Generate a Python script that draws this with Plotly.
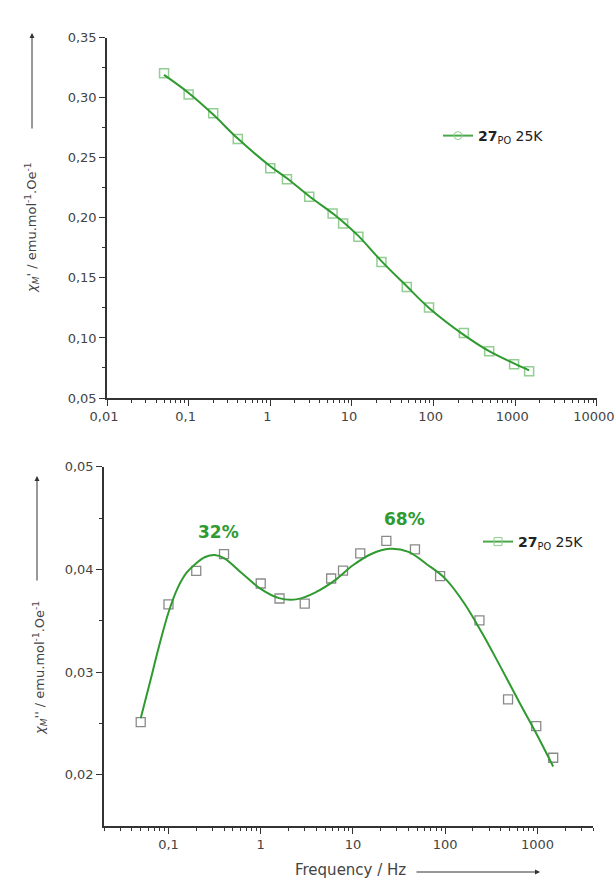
import math
import plotly.graph_objects as go

# ---------------- data ----------------
freq = [0.05, 0.1, 0.2, 0.4, 1, 1.6, 3, 5.8, 7.8, 12, 23, 47, 88, 235, 480, 970, 1480]
chi_real = [0.3203, 0.3028, 0.287, 0.2656, 0.2412, 0.2322, 0.2175, 0.2037, 0.1953,
            0.1842, 0.1633, 0.1425, 0.1253, 0.1042, 0.089, 0.078, 0.0722]
chi_imag = [0.02512, 0.03658, 0.03985, 0.04148, 0.03862, 0.03716, 0.03667, 0.03911,
            0.03987, 0.04155, 0.04278, 0.04194, 0.03934, 0.03504, 0.02734, 0.02473, 0.02165]

fit_freq_real = [0.05, 0.1, 0.2, 0.4, 1, 1.6, 3, 6, 8, 12, 23, 47, 88, 230, 480, 950, 1480]
fit_real = [0.319, 0.304, 0.286, 0.266, 0.243, 0.233, 0.218, 0.203, 0.196, 0.185,
            0.164, 0.143, 0.125, 0.103, 0.089, 0.079, 0.073]

fit_freq_imag = [0.05, 0.063, 0.079, 0.1, 0.126, 0.158, 0.2, 0.25, 0.316, 0.4, 0.63,
                 1.0, 1.58, 2.5, 4.0, 6.3, 10, 15.8, 25, 40, 63, 100, 158, 251, 398,
                 631, 1000, 1480]
fit_imag = [0.0255, 0.0290, 0.0325, 0.0358, 0.0382, 0.0397, 0.0406, 0.0412, 0.0414,
            0.0411, 0.0396, 0.0381, 0.0372, 0.0371, 0.0378, 0.0389, 0.0404, 0.0415,
            0.0420, 0.0417, 0.0405, 0.0391, 0.0368, 0.0338, 0.0305, 0.0271, 0.0238,
            0.0208]

top_xticks = [0.01, 0.1, 1, 10, 100, 1000, 10000]
top_xtext = ["0,01", "0,1", "1", "10", "100", "1000", "10000"]
top_yticks = [0.05, 0.10, 0.15, 0.20, 0.25, 0.30, 0.35]
top_ytext = ["0,05", "0,10", "0,15", "0,20", "0,25", "0,30", "0,35"]
bot_xticks = [0.1, 1, 10, 100, 1000]
bot_xtext = ["0,1", "1", "10", "100", "1000"]
bot_yticks = [0.02, 0.03, 0.04, 0.05]
bot_ytext = ["0,02", "0,03", "0,04", "0,05"]

series_name = "<b>27</b><sub>PO</sub> 25K"
peak_labels = ["32%", "68%"]

# ---------------- styling ----------------
W, H = 616, 882
GREEN = "#2f9a2f"
LIGHTGREEN = "rgba(110,190,110,0.75)"
GRAY = "#8a8a8a"
AX = "#333333"
TXT = "#444444"
FONT = "DejaVu Sans"


def px_x(p):
    return p / W


def px_y(p):
    return 1 - p / H


def minor_log(lo, hi):
    vals = []
    for e in range(lo, hi):
        for m in range(2, 10):
            vals.append(m * 10 ** e)
    return vals


fig = go.Figure()

# top panel
fig.add_trace(go.Scatter(x=freq, y=chi_real, mode="markers", xaxis="x", yaxis="y",
                         marker=dict(symbol="square-open", size=9,
                                     color=LIGHTGREEN, line=dict(width=1.5)),
                         showlegend=False))
fig.add_trace(go.Scatter(x=fit_freq_real, y=fit_real, mode="lines", xaxis="x", yaxis="y",
                         line=dict(color=GREEN, width=2, shape="spline"),
                         showlegend=False))
fig.add_trace(go.Scatter(x=[None], y=[None], mode="lines+markers", xaxis="x", yaxis="y",
                         name=series_name, legend="legend",
                         line=dict(color="#4aa84a", width=2),
                         marker=dict(symbol="circle-open", size=8, color="#8bd08b")))

# bottom panel
fig.add_trace(go.Scatter(x=freq, y=chi_imag, mode="markers", xaxis="x2", yaxis="y2",
                         marker=dict(symbol="square-open", size=9, color=GRAY,
                                     line=dict(width=1.3)),
                         showlegend=False))
fig.add_trace(go.Scatter(x=fit_freq_imag, y=fit_imag, mode="lines", xaxis="x2", yaxis="y2",
                         line=dict(color=GREEN, width=2, shape="spline"),
                         showlegend=False))
fig.add_trace(go.Scatter(x=[None], y=[None], mode="lines+markers", xaxis="x2", yaxis="y2",
                         name=series_name, legend="legend2",
                         line=dict(color="#4aa84a", width=2),
                         marker=dict(symbol="square-open", size=8, color="#8bd08b")))

axis_common = dict(showline=True, linecolor=AX, linewidth=1.5, ticks="outside",
                   ticklen=6, tickwidth=1.3, tickcolor=AX, showgrid=False,
                   zeroline=False, tickfont=dict(family=FONT, size=13, color=TXT),
                   tickmode="array", automargin=False, ticklabeloverflow="allow")

fig.update_layout(
    width=W, height=H,
    margin=dict(l=0, r=0, t=0, b=0, autoexpand=False),
    paper_bgcolor="white", plot_bgcolor="white",
    xaxis=dict(type="log", range=[-2, 4.002], domain=[px_x(107), px_x(597)], anchor="y",
               tickvals=top_xticks, ticktext=top_xtext, ticklabelshift=-3,
               minor=dict(tickvals=minor_log(-2, 4), ticks="outside", ticklen=3,
                          tickwidth=1.1, tickcolor=AX),
               **axis_common),
    yaxis=dict(range=[0.05, 0.35], domain=[px_y(398), px_y(37.7)], anchor="x",
               tickvals=top_yticks, ticktext=top_ytext,
               minor=dict(tickvals=[0.075, 0.125, 0.175, 0.225, 0.275, 0.325],
                          ticks="outside", ticklen=3, tickwidth=1.1, tickcolor=AX),
               **axis_common),
    xaxis2=dict(type="log", range=[math.log10(0.02), math.log10(4000)],
                domain=[px_x(104), px_x(593)], anchor="y2",
                tickvals=bot_xticks, ticktext=bot_xtext,
                minor=dict(tickvals=minor_log(-2, 4), ticks="outside", ticklen=3,
                           tickwidth=1.1, tickcolor=AX),
                **axis_common),
    yaxis2=dict(range=[0.015, 0.05], domain=[px_y(826), px_y(466.7)], anchor="x2",
                tickvals=bot_yticks, ticktext=bot_ytext,
                minor=dict(tickvals=[0.025, 0.035, 0.045],
                           ticks="outside", ticklen=3, tickwidth=1.1, tickcolor=AX),
                **axis_common),
    legend=dict(x=px_x(438), y=px_y(136), xanchor="left", yanchor="middle",
                bgcolor="rgba(0,0,0,0)", font=dict(family=FONT, size=14, color="#222"),
                itemwidth=30),
    legend2=dict(x=px_x(478), y=px_y(542), xanchor="left", yanchor="middle",
                 bgcolor="rgba(0,0,0,0)", font=dict(family=FONT, size=14, color="#222"),
                 itemwidth=30),
)

C = dict(xanchor="center", yanchor="middle")
annotations = [
    # axis titles
    dict(text="<i>χ<sub>M</sub></i>' / emu.mol<sup>-1</sup>.Oe<sup>-1</sup>",
         xref="paper", yref="paper", x=px_x(32), y=px_y(228), textangle=-90,
         showarrow=False, font=dict(family=FONT, size=13, color=TXT), **C),
    dict(text="", xref="paper", yref="paper", x=px_x(32), y=px_y(33), ax=0, ay=97,
         showarrow=True, arrowhead=2, arrowsize=1, arrowwidth=1, arrowcolor=AX),
    dict(text="<i>χ<sub>M</sub></i>'' / emu.mol<sup>-1</sup>.Oe<sup>-1</sup>",
         xref="paper", yref="paper", x=px_x(40), y=px_y(668), textangle=-90,
         showarrow=False, font=dict(family=FONT, size=13, color=TXT), **C),
    dict(text="", xref="paper", yref="paper", x=px_x(37), y=px_y(476), ax=0, ay=106,
         showarrow=True, arrowhead=2, arrowsize=1, arrowwidth=1, arrowcolor=AX),
    dict(text="Frequency / Hz", xref="paper", yref="paper", x=px_x(350), y=px_y(870),
         showarrow=False, font=dict(family=FONT, size=15, color=TXT), **C),
    dict(text="", xref="paper", yref="paper", x=px_x(540), y=px_y(872), ax=-125, ay=0,
         showarrow=True, arrowhead=2, arrowsize=1, arrowwidth=1, arrowcolor=AX),
    # peak labels
    dict(text="<b>%s</b>" % peak_labels[0], xref="x2", yref="y2",
         x=math.log10(0.35), y=0.04366, showarrow=False,
         font=dict(family=FONT, size=17, color=GREEN), **C),
    dict(text="<b>%s</b>" % peak_labels[1], xref="x2", yref="y2",
         x=math.log10(35.8), y=0.0449, showarrow=False,
         font=dict(family=FONT, size=17, color=GREEN), **C),
]
fig.update_layout(annotations=annotations)

fig.write_html("out.html")
